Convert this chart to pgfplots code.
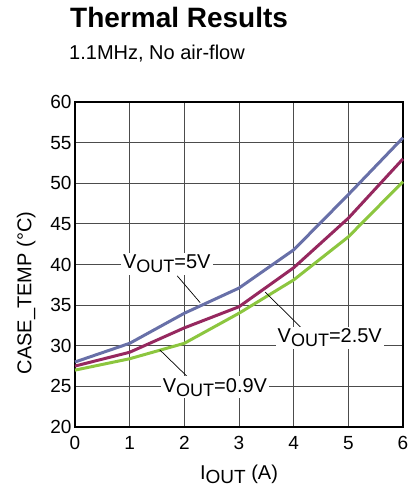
\documentclass[border=0pt]{standalone}
\usepackage{pgfplots}
\pgfplotsset{compat=1.18}
\usepackage{fontspec}
\setmainfont{Liberation Sans}
\definecolor{vfive}{RGB}{104,112,168}
\definecolor{vtwo}{RGB}{150,40,95}
\definecolor{vzero}{RGB}{140,198,63}
% subscript as in the source: nearly full size, lowered
\newcommand{\sub}[2]{\raisebox{-4pt}{\fontsize{#2}{#2}\selectfont #1}}
\begin{document}
\begin{tikzpicture}[x=1pt,y=1pt]
\useasboundingbox (0,0) rectangle (407,489);
\node[anchor=base west,inner sep=0] at (70,461) {\fontsize{28}{30}\selectfont\bfseries Thermal Results};
\node[anchor=base west,inner sep=0] at (69,429) {\fontsize{20}{22}\selectfont 1.1MHz, No air-flow};
\begin{axis}[
    at={(75pt,62pt)}, anchor=south west,
    scale only axis,
    width=328pt, height=325pt,
    xmin=0, xmax=6, ymin=20, ymax=60,
    xtick={0,...,6}, ytick={20,25,...,60},
    grid=major,
    major grid style={line width=0.8pt, black!70},
    axis line style={line width=2.2pt},
    major tick length=0pt,
    tick label style={font=\fontsize{19}{21}\selectfont},
    xticklabel style={yshift=-6pt},
    /pgf/number format/assume math mode=true,
    xlabel={I\sub{OUT}{19} (A)},
    ylabel={CASE\_TEMP (°C)},
    label style={font=\fontsize{20}{22}\selectfont},
    xlabel style={at={(axis description cs:0.5,0)}, anchor=base, yshift=-52pt},
    ylabel style={at={(axis description cs:-0.149,0.412)}, anchor=center},
    clip=false,
  ]
  \addplot[vfive, line width=3pt, sharp plot] coordinates {
    (0,28.0) (1,30.3) (2,34.0) (3,37.1) (4,41.8) (5,48.6) (6,55.6)};
  \addplot[vtwo, line width=3pt, sharp plot] coordinates {
    (0,27.5) (1,29.2) (2,32.2) (3,34.8) (4,39.6) (5,45.7) (6,53.0)};
  \addplot[vzero, line width=3pt, sharp plot] coordinates {
    (0,27.0) (1,28.4) (2,30.3) (3,34.0) (4,38.1) (5,43.4) (6,50.2)};

  \draw[line width=0.7pt] (axis cs:1.87,38.6) -- (axis cs:2.29,35.3);
  \draw[line width=0.7pt] (axis cs:4.2,31.8) -- (axis cs:3.48,36.6);
  \draw[line width=0.7pt] (axis cs:2.1,25.9) -- (axis cs:1.55,29.5);
  \node[fill=white, inner sep=2pt, font=\fontsize{20}{22}\selectfont] at (axis cs:1.68,40.1) {V\sub{OUT}{18}=5V};
  \node[fill=white, inner sep=2pt, font=\fontsize{20}{22}\selectfont] at (axis cs:4.66,31.0) {V\sub{OUT}{18}=2.5V};
  \node[fill=white, inner sep=2pt, font=\fontsize{20}{22}\selectfont] at (axis cs:2.56,24.9) {V\sub{OUT}{18}=0.9V};
\end{axis}
\end{tikzpicture}
\end{document}
